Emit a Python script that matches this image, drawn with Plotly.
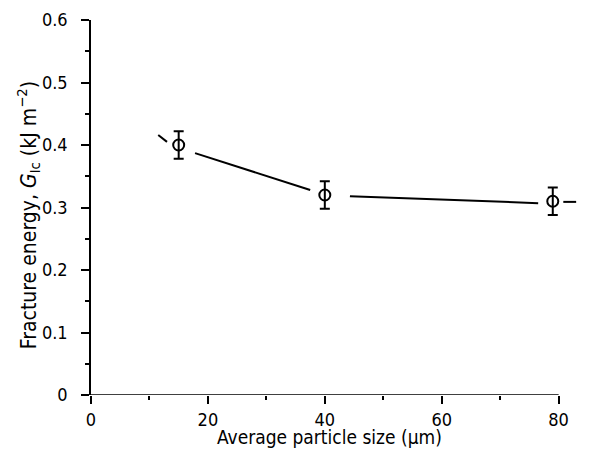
import plotly.graph_objects as go

# Measured points
size_um = [15, 40, 79]
gic = [0.40, 0.32, 0.31]
gic_err = [0.022, 0.022, 0.022]

# Hand-drawn trend line, in broken segments (None = gap)
trend_x = [11.5, 13.0, None, 17.8, 37.5, None, 44.3, 76.5, None, 80.8, 83.0]
trend_y = [0.416, 0.405, None, 0.387, 0.328, None, 0.318, 0.307, None, 0.309, 0.309]

x_ticks = [0, 20, 40, 60, 80]
y_ticks = [0, 0.1, 0.2, 0.3, 0.4, 0.5, 0.6]
y_ticktext = ["0", "0.1", "0.2", "0.3", "0.4", "0.5", "0.6"]

FONT = "DejaVu Sans Condensed, Liberation Sans Narrow, DejaVu Sans"

fig = go.Figure()
fig.add_trace(go.Scatter(
    x=trend_x, y=trend_y, mode="lines",
    line=dict(color="black", width=2), connectgaps=False,
    hoverinfo="skip", showlegend=False))
fig.add_trace(go.Scatter(
    x=size_um, y=gic, mode="markers",
    marker=dict(symbol="circle-open", size=11, color="black", line=dict(width=2)),
    error_y=dict(type="data", array=gic_err, visible=True, color="black",
                 thickness=2, width=5),
    showlegend=False))

fig.update_layout(
    width=593, height=441,
    margin=dict(l=83, r=19, t=12, b=54),
    plot_bgcolor="white", paper_bgcolor="white",
    font=dict(family=FONT, color="black", size=16),
    xaxis=dict(
        range=[0, 84], showline=False, showgrid=False, zeroline=False,
        automargin=False,
        tickmode="array", tickvals=x_ticks,
        ticks="outside", ticklen=8, tickwidth=1.5, tickcolor="black",
        minor=dict(dtick=10, tick0=0, ticks="outside", ticklen=4, tickwidth=1.5, tickcolor="black"),
        tickfont=dict(size=18),
    ),
    yaxis=dict(
        range=[0, 0.6], showline=True, linecolor="black", linewidth=1.5,
        showgrid=False, zeroline=False, automargin=False,
        tickmode="array", tickvals=y_ticks, ticktext=y_ticktext,
        ticks="outside", ticklen=8, tickwidth=1.5, tickcolor="black",
        minor=dict(dtick=0.05, tick0=0, ticks="outside", ticklen=4, tickwidth=1.5, tickcolor="black"),
        tickfont=dict(size=18), ticklabelstandoff=10,
    ),
    annotations=[
        dict(text="Fracture energy, <i>G</i><sub>Ic</sub> (kJ m<sup>−2</sup>)",
             xref="paper", yref="paper", x=-0.128, y=0.48,
             xanchor="center", yanchor="middle", textangle=-90,
             showarrow=False, font=dict(size=21)),
        dict(text="Average particle size (μm)",
             xref="paper", yref="paper", x=0.485, y=-0.112,
             xanchor="center", yanchor="middle",
             showarrow=False, font=dict(size=19)),
    ],
    shapes=[dict(type="line", xref="x", yref="y", x0=0, x1=80, y0=0, y1=0,
                 line=dict(color="black", width=1.5), layer="above")],
)

fig.write_html("out.html")
